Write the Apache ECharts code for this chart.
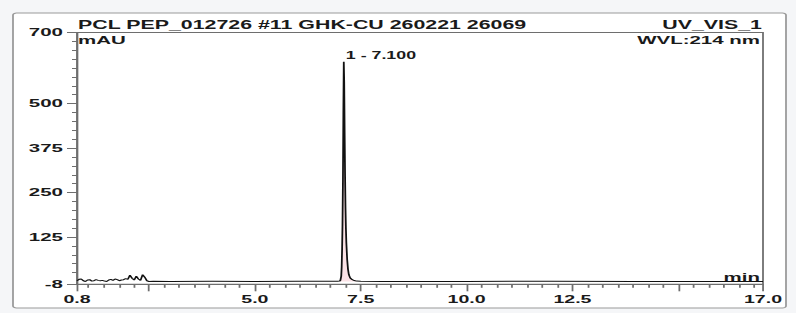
<!DOCTYPE html>
<html>
<head>
<meta charset="utf-8">
<script src="https://cdn.jsdelivr.net/npm/echarts@6/dist/echarts.min.js"></script>
<style>
html,body{margin:0;padding:0;background:#f5f6f8;overflow:hidden;}
#c{width:447px;height:313px;transform:scaleX(1.780761);transform-origin:0 0;}
</style>
</head>
<body>
<div id="c"></div>
<script>
// ---- data ----
const titleText = 'PCL PEP_012726 #11 GHK-CU 260221 26069';
const channelText = 'UV_VIS_1';
const yUnit = 'mAU';
const wavelengthText = 'WVL:214 nm';
const xUnit = 'min';

const time = [0.80,0.85,0.90,0.95,1.00,1.05,1.10,1.15,1.20,1.25,1.30,1.35,1.40,1.45,1.50,1.55,1.60,1.65,1.70,1.75,1.80,1.85,1.90,1.95,2.00,2.05,2.10,2.15,2.20,2.25,2.30,2.35,2.40,2.45,2.50,
  2.60,3.00,4.00,5.00,6.00,6.90,
  6.95,7.00,7.02,7.04,7.05,7.06,7.07,7.08,7.09,7.10,
  7.11,7.12,7.13,7.14,7.15,7.16,
  7.18,7.20,7.22,7.25,7.30,7.35,7.40,7.50,
  8.00,10.00,12.00,14.00,17.00];
const signal = [2,6,7,2,0,4,5,1,2,5,3,2,3,1,0,4,6,3,7,5,2,4,5,8,6,18,9,4,15,7,3,19,12,2,0,
  0.3,0.2,0.3,0.2,0.3,0.3,
  0.4,1,3,15,40,90,160,280,470,618,
  560,420,300,210,150,110,
  62,34,19,10,5,2.5,1,0.3,
  0.2,0.2,0.3,0.2,0.2];

const peakNames = ['1 - 7.100'];
const peakTimes = [7.10];
const peakHeights = [618];
const peakStart = 7.00, peakEnd = 7.40;

const xMin = 0.8, xMax = 17.0;
const xLabelValues = [0.8, 5.0, 7.5, 10.0, 12.5, 17.0];
const xMajorTicks = [0.8, 2.5, 5.0, 7.5, 10.0, 12.5, 15.0, 17.0];
const xMinorTicks = [1.07,1.43,1.79,2.14, 2.86,3.21,3.57,3.93,4.29,4.64, 5.36,5.71,6.07,6.43,6.79,7.14,
  7.86,8.21,8.57,8.93,9.29,9.64, 10.36,10.71,11.07,11.43,11.79,12.14, 12.86,13.21,13.57,13.93,14.29,14.64,
  15.36,15.71,16.07,16.43,16.79];

const yMin = -8, yMax = 700;
const yLabelValues = [-8, 125, 250, 375, 500, 700];
const yMinorTicks = [25,50,75,100,150,175,200,225,275,300,325,350,400,425,450,475,525,550,575,600,625,650,675];

// ---- chart ----
const SX = 796 / 447;
const FONT = '"Liberation Sans", Arial, sans-serif';
const mainData = time.map((t, i) => [t, signal[i]]);
const peakData = mainData.filter(d => d[0] >= peakStart && d[0] <= peakEnd);

const chart = echarts.init(document.getElementById('c'), null, {renderer: 'svg'});
const axisGrey = '#6e6e6e';

chart.setOption({
  backgroundColor: '#f5f6f8',
  animation: false,
  grid: {left: 77 / SX, right: 447 - 763 / SX, top: 32.5, bottom: 28.7, show: true,
    borderColor: axisGrey, borderWidth: 1, backgroundColor: 'transparent'},
  xAxis: [{
    type: 'value', min: xMin, max: xMax, position: 'bottom',
    axisLine: {show: true, onZero: false, lineStyle: {color: axisGrey, width: 1}},
    axisTick: {show: true, customValues: xMajorTicks, length: 7, lineStyle: {color: axisGrey}},
    axisLabel: {customValues: xLabelValues, formatter: v => v.toFixed(1), margin: 9,
      color: '#1a1a1a', fontFamily: FONT, fontWeight: 'bold', fontSize: 11},
    splitLine: {show: false}
  }, {
    type: 'value', min: xMin, max: xMax, position: 'bottom',
    axisLine: {show: false, onZero: false},
    axisTick: {show: true, customValues: xMinorTicks, length: 3.5, lineStyle: {color: axisGrey}},
    axisLabel: {show: false},
    splitLine: {show: false}
  }],
  yAxis: [{
    type: 'value', min: yMin, max: yMax, position: 'left',
    axisLine: {show: true, onZero: false, lineStyle: {color: axisGrey, width: 1}},
    axisTick: {show: true, customValues: yLabelValues, length: 10 / SX, lineStyle: {color: axisGrey}},
    axisLabel: {customValues: yLabelValues, margin: 14 / SX,
      color: '#1a1a1a', fontFamily: FONT, fontWeight: 'bold', fontSize: 11.5},
    splitLine: {show: false}
  }, {
    type: 'value', min: yMin, max: yMax, position: 'left',
    axisLine: {show: false, onZero: false},
    axisTick: {show: true, customValues: yMinorTicks, length: 5 / SX, lineStyle: {color: axisGrey}},
    axisLabel: {show: false},
    splitLine: {show: false}
  }],
  graphic: [
    {type: 'rect', z: -10, silent: true,
      shape: {x: 13 / SX, y: 13, width: (786 - 13) / SX, height: 295, r: 2},
      style: {fill: '#ffffff', stroke: '#9a9a9a', lineWidth: 1}},
    {type: 'text', x: 78 / SX, y: 25, style: {text: titleText, font: 'bold 12px ' + FONT, fill: '#1a1a1a', textVerticalAlign: 'middle'}},
    {type: 'text', x: 762 / SX, y: 25, style: {text: channelText, font: 'bold 12px ' + FONT, fill: '#1a1a1a', textAlign: 'right', textVerticalAlign: 'middle'}},
    {type: 'text', x: 78 / SX, y: 40, style: {text: yUnit, font: 'bold 11.5px ' + FONT, fill: '#1a1a1a', textVerticalAlign: 'middle'}},
    {type: 'text', x: 760 / SX, y: 40, style: {text: wavelengthText, font: 'bold 11.5px ' + FONT, fill: '#1a1a1a', textAlign: 'right', textVerticalAlign: 'middle'}},
    {type: 'text', x: 760 / SX, y: 277, style: {text: xUnit, font: 'bold 11.5px ' + FONT, fill: '#1a1a1a', textAlign: 'right', textVerticalAlign: 'middle'}}
  ],
  series: [{
    type: 'line', xAxisIndex: 0, yAxisIndex: 0, data: peakData, symbol: 'none',
    lineStyle: {width: 0}, areaStyle: {color: '#fbe2e6', opacity: 1, origin: 0}, z: 1
  }, {
    type: 'line', xAxisIndex: 0, yAxisIndex: 0, data: mainData, symbol: 'none',
    lineStyle: {color: '#111111', width: 1}, z: 3,
    markPoint: {
      symbol: 'circle', symbolSize: 0,
      data: peakNames.map((n, i) => ({coord: [peakTimes[i], peakHeights[i]], name: n})),
      label: {show: true, position: 'inside', formatter: p => p.name, align: 'left', verticalAlign: 'middle',
        offset: [2 / SX, -6], color: '#1a1a1a', fontFamily: FONT, fontWeight: 'bold', fontSize: 10}
    }
  }]
});
</script>
</body>
</html>
